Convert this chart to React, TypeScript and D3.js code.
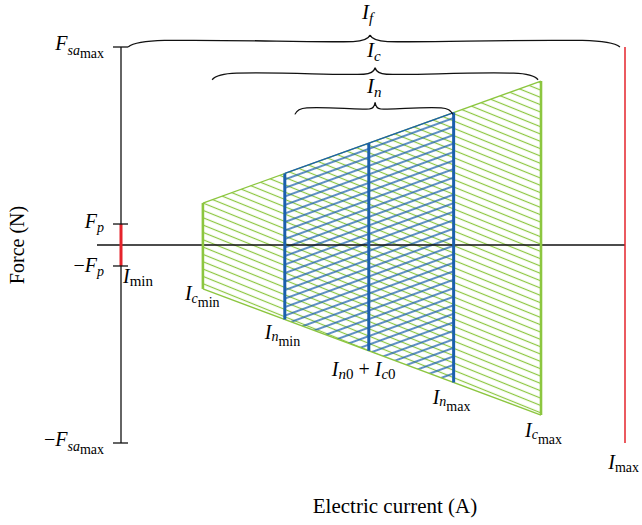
import React from "react";
import * as d3 from "d3";

// Current positions (A, abstract units) along the horizontal axis
const currentKeys = ["Imin", "Icmin", "Inmin", "I0", "Inmax", "Icmax", "Imax"];
const currentValues = [0, 1.95, 3.9, 5.9, 7.92, 10, 12];

// Force levels (N, abstract units)
const forceKeys = ["Fsamax", "Fp"];
const forceValues = [10, 1.06];

// Force envelope of the admissible region (at Icmin and Icmax)
const envelopeCurrents = [1.95, 10];
const envelopeUpper = [2.12, 8.28];
const envelopeLower = [-2.22, -8.59];

// Braces: start, end, tip (current) and body level (force)
const braceNames = ["f", "c", "n"];
const braceStart = [0.17, 2.17, 4.14];
const braceEnd = [11.88, 9.93, 7.9];
const braceTip = [5.93, 6.05, 6.05];
const braceLevel = [10.3, 8.65, 6.9];

const W = 642;
const H = 525;
const GREEN = "#8cc63f";
const BLUE = "#1b5fad";
const RED = "#e5232b";
const INK = "#111";
const FONT = "'Liberation Serif', 'DejaVu Serif', serif";

const cur = (k: string) => currentValues[currentKeys.indexOf(k)];
const frc = (k: string) => forceValues[forceKeys.indexOf(k)];

function bracePath(x1: number, x2: number, xt: number, yb: number, d: number) {
  const half = (xe: number) => {
    const L = xt - xe;
    return `M${xe},${yb + d} Q${xe + L * 0.03},${yb} ${xe + L * 0.15},${yb - 0.6} C${xe + L * 0.5},${yb - 1.6} ${xt - L * 0.28},${yb + 1.6} ${xt - L * 0.07},${yb + 0.5} Q${xt - L * 0.01},${yb} ${xt},${yb - d}`;
  };
  return half(x1) + " " + half(x2);
}

export default function App() {
  const x = d3.scaleLinear().domain([0, 12]).range([121, 625]);
  const y = d3.scaleLinear().domain([-10, 10]).range([443, 47]);
  const upper = d3.scaleLinear().domain(envelopeCurrents).range(envelopeUpper);
  const lower = d3.scaleLinear().domain(envelopeCurrents).range(envelopeLower);
  const line = d3.line<[number, number]>().x((d) => x(d[0])).y((d) => y(d[1]));

  const region = (a: number, b: number) =>
    line([
      [a, upper(a)],
      [b, upper(b)],
      [b, lower(b)],
      [a, lower(a)],
    ]) + "Z";

  const Icmin = cur("Icmin"), Icmax = cur("Icmax");
  const Inmin = cur("Inmin"), Inmax = cur("Inmax"), I0 = cur("I0");
  const Imin = cur("Imin"), Imax = cur("Imax");
  const Fsa = frc("Fsamax"), Fp = frc("Fp");
  const ax = x(Imin);

  const vert = (c: number, color: string, w: number) => (
    <line x1={x(c)} x2={x(c)} y1={y(upper(c))} y2={y(lower(c))} stroke={color} strokeWidth={w} />
  );

  const tickYs = [Fsa, Fp, -Fp, -Fsa];

  const it = { fontStyle: "italic" } as const;
  const SUB = 14;

  const labelOffsets = [16.5, 11, 9.5];

  return (
    <svg width={W} height={H} style={{ position: "absolute", left: 0, top: 0, background: "#fff" }} fontFamily={FONT}>
      <defs>
        <pattern id="hatchG" patternUnits="userSpaceOnUse" width={20} height={6.8} patternTransform="rotate(22)">
          <line x1={0} x2={20} y1={3.4} y2={3.4} stroke={GREEN} strokeWidth={1.2} />
        </pattern>
        <pattern id="hatchB" patternUnits="userSpaceOnUse" width={20} height={8} patternTransform="rotate(-20)">
          <line x1={0} x2={20} y1={2} y2={2} stroke={BLUE} strokeWidth={1.4} />
        </pattern>
      </defs>

      {/* green region */}
      <path d={region(Icmin, Icmax)} fill="url(#hatchG)" stroke="none" />
      {/* blue region */}
      <path d={region(Inmin, Inmax)} fill="url(#hatchB)" stroke="none" />

      {/* horizontal axis */}
      <line x1={97} x2={x(Imax)} y1={y(0)} y2={y(0)} stroke={INK} strokeWidth={1.3} />

      <path
        d={line([[Icmin, upper(Icmin)], [Icmax, upper(Icmax)]]) || ""}
        stroke={GREEN}
        strokeWidth={1.3}
        fill="none"
      />
      <path
        d={line([[Icmin, lower(Icmin)], [Icmax, lower(Icmax)]]) || ""}
        stroke={GREEN}
        strokeWidth={1.3}
        fill="none"
      />
      <path
        d={line([[Inmin, upper(Inmin)], [Inmax, upper(Inmax)]]) || ""}
        stroke={BLUE}
        strokeWidth={1.3}
        fill="none"
      />
      {vert(Icmin, GREEN, 2.6)}
      {vert(Icmax, GREEN, 2.6)}
      {vert(Inmin, BLUE, 3)}
      {vert(I0, BLUE, 3)}
      {vert(Inmax, BLUE, 3)}

      {/* vertical axis */}
      <line x1={ax} x2={ax} y1={y(Fsa)} y2={y(-Fsa)} stroke={INK} strokeWidth={1.3} />
      <line x1={ax} x2={ax} y1={y(Fp)} y2={y(-Fp)} stroke={RED} strokeWidth={3} />
      {tickYs.map((f, i) => (
        <line key={i} x1={ax - 8} x2={ax + 7} y1={y(f)} y2={y(f)} stroke={INK} strokeWidth={1.3} />
      ))}

      {/* Imax line */}
      <line x1={x(Imax)} x2={x(Imax)} y1={y(Fsa)} y2={y(-Fsa)} stroke={RED} strokeWidth={1.5} />

      {/* braces */}
      {braceNames.map((n, i) => (
        <g key={n}>
          <path
            d={bracePath(x(braceStart[i]), x(braceEnd[i]), x(braceTip[i]), y(braceLevel[i]), 6)}
            fill="none"
            stroke={INK}
            strokeWidth={1.3}
          />
          <text x={x(braceTip[i]) - 8} y={y(braceLevel[i]) - 6 - labelOffsets[i]} fontSize={21}>
            <tspan {...it}>I</tspan>
            <tspan {...it} fontSize={15} dy={4}>
              {n}
            </tspan>
          </text>
        </g>
      ))}

      {/* force labels */}
      <text x={104} y={y(Fsa) + 3} fontSize={20} textAnchor="end">
        <tspan {...it}>F</tspan>
        <tspan {...it} fontSize={SUB} dy={5}>sa</tspan>
        <tspan fontSize={SUB} dy={2.5}>max</tspan>
      </text>
      <text x={104} y={y(-Fsa) + 3} fontSize={20} textAnchor="end">
        <tspan>−</tspan>
        <tspan {...it}>F</tspan>
        <tspan {...it} fontSize={SUB} dy={5}>sa</tspan>
        <tspan fontSize={SUB} dy={2.5}>max</tspan>
      </text>
      <text x={104} y={y(Fp) + 4} fontSize={20} textAnchor="end">
        <tspan {...it}>F</tspan>
        <tspan {...it} fontSize={SUB} dy={4}>p</tspan>
      </text>
      <text x={104} y={y(-Fp) + 6} fontSize={20} textAnchor="end">
        <tspan>−</tspan>
        <tspan {...it}>F</tspan>
        <tspan {...it} fontSize={SUB} dy={4}>p</tspan>
      </text>

      {/* current labels */}
      <text x={ax + 2} y={283} fontSize={20}>
        <tspan {...it}>I</tspan>
        <tspan fontSize={15} dy={3}>min</tspan>
      </text>
      <text x={x(Icmin) - 18} y={y(lower(Icmin)) + 11} fontSize={20}>
        <tspan {...it}>I</tspan>
        <tspan {...it} fontSize={SUB} dy={3}>c</tspan>
        <tspan fontSize={SUB} dy={4}>min</tspan>
      </text>
      <text x={x(Inmin) - 20} y={y(lower(Inmin)) + 19} fontSize={20}>
        <tspan {...it}>I</tspan>
        <tspan {...it} fontSize={SUB} dy={2}>n</tspan>
        <tspan fontSize={SUB} dy={5}>min</tspan>
      </text>
      <text x={x(I0) - 37} y={376} fontSize={20}>
        <tspan {...it}>I</tspan>
        <tspan {...it} fontSize={15} dy={3}>n</tspan>
        <tspan fontSize={15}>0</tspan>
        <tspan dy={-3}> + </tspan>
        <tspan {...it}>I</tspan>
        <tspan {...it} fontSize={15} dy={3}>c</tspan>
        <tspan fontSize={15}>0</tspan>
      </text>
      <text x={x(Inmax) - 21} y={y(lower(Inmax)) + 22} fontSize={20}>
        <tspan {...it}>I</tspan>
        <tspan {...it} fontSize={SUB} dy={2}>n</tspan>
        <tspan fontSize={SUB} dy={5}>max</tspan>
      </text>
      <text x={x(Icmax) - 16} y={y(lower(Icmax)) + 22} fontSize={20}>
        <tspan {...it}>I</tspan>
        <tspan {...it} fontSize={SUB} dy={2}>c</tspan>
        <tspan fontSize={SUB} dy={5}>max</tspan>
      </text>
      <text x={W - 3} y={469} fontSize={20} textAnchor="end">
        <tspan {...it}>I</tspan>
        <tspan fontSize={SUB} dy={3}>max</tspan>
      </text>

      {/* axis titles */}
      <text x={395} y={513} fontSize={21} textAnchor="middle">
        Electric current (A)
      </text>
      <text transform={`translate(24,${y(0)}) rotate(-90)`} fontSize={20} textAnchor="middle">
        Force (N)
      </text>
    </svg>
  );
}
